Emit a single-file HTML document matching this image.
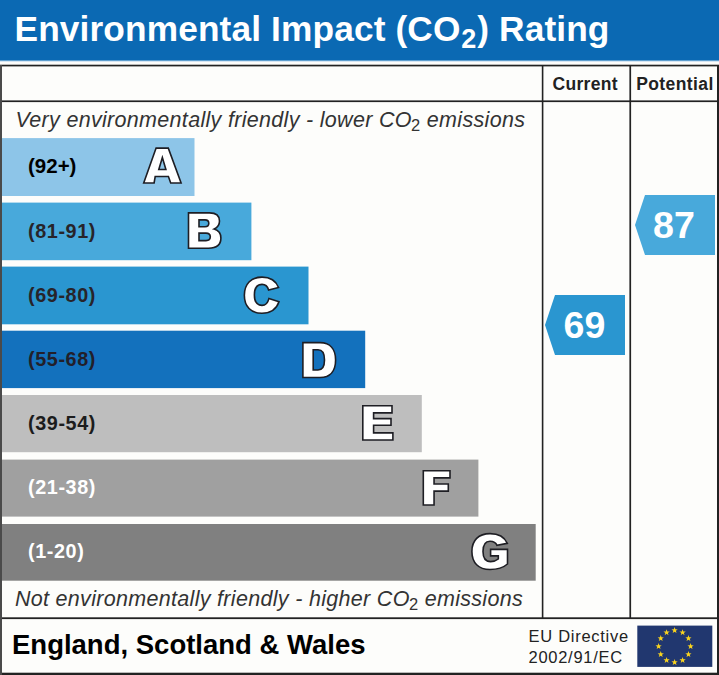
<!DOCTYPE html>
<html><head><meta charset="utf-8">
<style>
*{margin:0;padding:0;box-sizing:border-box}
html,body{width:719px;height:675px;overflow:hidden;background:#fdfdfb;font-family:"Liberation Sans",sans-serif;}
#root{position:relative;width:719px;height:675px;overflow:hidden;background:#fdfdfb}
.abs{position:absolute}
#hdr{left:0;top:0;width:719px;height:60px;background:#0b69b3;border-bottom:0}
#title{left:14.5px;top:9px;color:#fff;font-weight:bold;font-size:35.27px;line-height:40px;white-space:nowrap;letter-spacing:0.13px}
#title sub{font-size:27px;vertical-align:baseline;position:relative;top:7px;margin:0 0.8px}
.ln{background:#2a2a2a}
.bar{left:2px;height:58px}
.lbl{left:28px;font-weight:bold;font-size:19.8px;letter-spacing:0.6px;line-height:20px;white-space:nowrap;z-index:2}
.it{font-style:italic;font-size:21.5px;letter-spacing:0.31px;color:#333;white-space:nowrap;line-height:24px}
.it sub{font-size:16.5px;font-style:normal;vertical-align:baseline;position:relative;top:4.2px;margin-left:-0.8px}
svg{position:absolute;left:0;top:0}
</style></head><body><div id="root">
<div id="hdr" class="abs"></div>
<div class="abs" style="left:0;top:60px;width:719px;height:1px;background:#5f9fd0"></div>
<div class="abs" style="left:0;top:61px;width:719px;height:1px;background:#d5e6f3"></div>
<div id="title" class="abs">Environmental Impact (CO<sub>2</sub>) Rating</div>

<!-- frame lines -->

<div class="abs" style="left:552.5px;top:74px;font-weight:bold;font-size:17.5px;line-height:20px;color:#222;letter-spacing:0.3px">Current</div>
<div class="abs" style="left:636.2px;top:74px;font-weight:bold;font-size:17.5px;line-height:20px;color:#222;letter-spacing:0.4px">Potential</div>

<div class="abs it" style="left:15.5px;top:108px">Very environmentally friendly - lower CO<sub>2</sub> emissions</div>
<div class="abs it" style="left:14.9px;top:587px">Not environmentally friendly - higher CO<sub>2</sub> emissions</div>



<div class="abs lbl" style="top:156.0px;color:#000;font-size:20.5px;letter-spacing:0;">(92+)</div>
<div class="abs lbl" style="top:220.5px;color:#27242a;">(81-91)</div>
<div class="abs lbl" style="top:284.6px;color:#27242a;">(69-80)</div>
<div class="abs lbl" style="top:348.8px;color:#221f2a;">(55-68)</div>
<div class="abs lbl" style="top:412.9px;color:#1c1c1c;">(39-54)</div>
<div class="abs lbl" style="top:477.0px;color:#fff;">(21-38)</div>
<div class="abs lbl" style="top:541.2px;color:#fff;">(1-20)</div>
<svg width="719" height="675" viewBox="0 0 719 675">
<rect x="2" y="138.1" width="192.5" height="57.9" fill="#8dc5e8"/>
<rect x="2" y="202.6" width="249.4" height="57.6" fill="#48a9db"/>
<rect x="2" y="266.6" width="306.5" height="57.7" fill="#2a96d0"/>
<rect x="2" y="330.7" width="363.2" height="57.4" fill="#1371bd"/>
<rect x="2" y="395.0" width="419.8" height="57.2" fill="#bebebe"/>
<rect x="2" y="459.6" width="476.4" height="57.0" fill="#a0a0a0"/>
<rect x="2" y="524.0" width="533.7" height="56.7" fill="#808080"/>
<g fill="#fff" stroke="#1e1e24" stroke-width="1.6" stroke-linejoin="miter" fill-rule="evenodd">
<path d="M143.7,183 L154.1,183 L155.2,176.5 L168.4,176.5 L170.7,183 L181.1,183 L168.3,148.1 L156.1,148.1 Z M162.35,157.5 L165.9,169.5 L158.8,169.5 Z"/>
<path d="M188.5,212.9 H209.5 C216,212.9 219.5,216 219.5,221 C219.5,225 217.5,227.6 214.2,229 C218.5,230.3 220.9,233.3 220.9,238 C220.9,244.5 216.5,248.2 208.5,248.2 H188.5 Z M199,219.85 H205 C207.5,219.85 208.8,221 208.8,223.3 C208.8,225.5 207.5,226.7 205,226.7 H199 Z M199,233.1 H206 C209,233.1 210.3,234.5 210.3,236.85 C210.3,239.3 209,240.6 206,240.6 H199 Z"/>
<path d="M278.6,287.5 C276,281 270,277.1 262,277.1 C251,277.1 244.35,284 244.35,295.2 C244.35,306.5 251,313.3 262,313.3 C270.5,313.3 276.5,309 279,301.8 L268.9,298.6 C267.8,303 265.5,305.4 262,305.4 C257,305.4 254.4,301.8 254.4,295 C254.4,288 257,284.4 262,284.4 C265.3,284.4 267.6,286.3 268.6,290 Z"/>
<path d="M302.9,342.6 H320 C330,342.6 335.6,349 335.6,360 C335.6,371 330,377.5 320,377.5 H302.9 Z M313.2,349.8 H318 C322.5,349.8 324.5,353.2 324.5,360 C324.5,366.7 322.5,370 318,370 H313.2 Z"/>
<path d="M362.8,405.8 H392.0 V412.9 H373.6 V418.65 H391.0 V425.2 H373.6 V432.9 H392.9 V440.0 H362.8 Z"/>
<path d="M423.3,470.8 H450.0 V477.9 H434.05 V483.95 H448.3 V491.1 H434.05 V505.0 H423.3 Z"/>
<path d="M507.3,543.3 C504.5,537 498.5,533.6 490,533.6 C478.5,533.6 471.9,540.5 471.9,551.5 C471.9,562.8 478.5,569.5 490,569.5 C497.5,569.5 503.5,567.5 507.5,564 V549.4 H490.6 V555.9 H498.3 V559 C496.3,560.7 493.6,561.6 490.5,561.6 C485.5,561.6 483,558 483,551.5 C483,545 485.5,541.2 490,541.2 C493.6,541.2 495.9,542.6 496.9,545.3 Z"/>
</g>
<polygon points="545,325 555,295 625,295 625,355 555,355" fill="#2a96d0"/>
<polygon points="635,225 645,195 715,195 715,255 645,255" fill="#48a9db"/>
<g font-family="Liberation Sans, sans-serif" font-weight="bold" font-size="37.6" fill="#fff" text-anchor="middle">
<text x="584.5" y="338.3">69</text>
<text x="674" y="238.2">87</text>
</g>
<rect x="637.3" y="625.6" width="75" height="41.3" fill="#21376f"/>
<polygon points="674.60,627.10 675.38,629.33 677.74,629.38 675.86,630.81 676.54,633.07 674.60,631.72 672.66,633.07 673.34,630.81 671.46,629.38 673.82,629.33" fill="#fbd51e"/>
<polygon points="682.60,629.24 683.38,631.48 685.74,631.52 683.86,632.95 684.54,635.21 682.60,633.86 680.66,635.21 681.34,632.95 679.46,631.52 681.82,631.48" fill="#fbd51e"/>
<polygon points="688.46,635.10 689.23,637.33 691.59,637.38 689.71,638.81 690.40,641.07 688.46,639.72 686.52,641.07 687.20,638.81 685.32,637.38 687.68,637.33" fill="#fbd51e"/>
<polygon points="690.60,643.10 691.38,645.33 693.74,645.38 691.86,646.81 692.54,649.07 690.60,647.72 688.66,649.07 689.34,646.81 687.46,645.38 689.82,645.33" fill="#fbd51e"/>
<polygon points="688.46,651.10 689.23,653.33 691.59,653.38 689.71,654.81 690.40,657.07 688.46,655.72 686.52,657.07 687.20,654.81 685.32,653.38 687.68,653.33" fill="#fbd51e"/>
<polygon points="682.60,656.96 683.38,659.19 685.74,659.24 683.86,660.66 684.54,662.93 682.60,661.58 680.66,662.93 681.34,660.66 679.46,659.24 681.82,659.19" fill="#fbd51e"/>
<polygon points="674.60,659.10 675.38,661.33 677.74,661.38 675.86,662.81 676.54,665.07 674.60,663.72 672.66,665.07 673.34,662.81 671.46,661.38 673.82,661.33" fill="#fbd51e"/>
<polygon points="666.60,656.96 667.38,659.19 669.74,659.24 667.86,660.66 668.54,662.93 666.60,661.58 664.66,662.93 665.34,660.66 663.46,659.24 665.82,659.19" fill="#fbd51e"/>
<polygon points="660.74,651.10 661.52,653.33 663.88,653.38 662.00,654.81 662.68,657.07 660.74,655.72 658.80,657.07 659.49,654.81 657.61,653.38 659.97,653.33" fill="#fbd51e"/>
<polygon points="658.60,643.10 659.38,645.33 661.74,645.38 659.86,646.81 660.54,649.07 658.60,647.72 656.66,649.07 657.34,646.81 655.46,645.38 657.82,645.33" fill="#fbd51e"/>
<polygon points="660.74,635.10 661.52,637.33 663.88,637.38 662.00,638.81 662.68,641.07 660.74,639.72 658.80,641.07 659.49,638.81 657.61,637.38 659.97,637.33" fill="#fbd51e"/>
<polygon points="666.60,629.24 667.38,631.48 669.74,631.52 667.86,632.95 668.54,635.21 666.60,633.86 664.66,635.21 665.34,632.95 663.46,631.52 665.82,631.48" fill="#fbd51e"/>
<g fill="#222">
<rect x="0" y="64.7" width="719" height="1.7"/>
<rect x="0" y="100.4" width="719" height="1.7"/>
<rect x="0" y="617.3" width="719" height="1.8"/>
<rect x="0" y="672.7" width="719" height="2.3"/>
<rect x="541.8" y="65" width="1.6" height="553"/>
<rect x="629.4" y="65" width="1.7" height="553"/>
<rect x="717" y="65" width="2" height="610"/>
</g>
<rect x="0" y="65" width="2" height="610" fill="#4a4a4a"/>

</svg>

<div class="abs" style="left:12px;top:629.7px;font-weight:bold;font-size:27.5px;line-height:30px;color:#000;white-space:nowrap">England, Scotland &amp; Wales</div>
<div class="abs" style="left:528.5px;top:626px;font-size:16.5px;line-height:21px;color:#222;white-space:nowrap;letter-spacing:0.72px">EU Directive<br>2002/91/EC</div>
</div></body></html>
